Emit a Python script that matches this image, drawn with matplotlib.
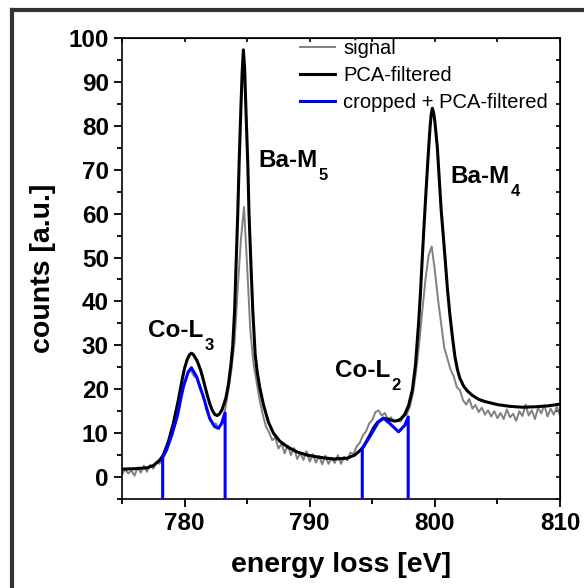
import numpy as np
import matplotlib
matplotlib.use("Agg")
import matplotlib.pyplot as plt
from matplotlib.ticker import MultipleLocator
from matplotlib.lines import Line2D

plt.rcParams['font.family'] = ['Liberation Sans', 'DejaVu Sans']

# raw signal, 0.25 eV steps from 775 to 810 eV (one row per eV)
signal_energy = np.arange(775, 810.001, 0.25)
signal_counts = [
    0.5, 1.8, 0.8, 1.5,      # 775
    0.3, 2.2, 1.0, 2.6,      # 776
    1.2, 2.8, 1.9, 3.5,      # 777
    3.0, 4.4, 5.6, 7.8,      # 778
    9.4, 12.0, 14.8, 18.5,   # 779
    21.0, 23.6, 24.3, 23.0,  # 780
    22.5, 19.8, 18.6, 15.2,  # 781
    13.6, 11.9, 12.2, 11.0,  # 782
    13.0, 15.5, 19.8, 24.5,  # 783
    31.0, 43.0, 54.0, 61.5,  # 784
    48.0, 33.5, 26.0, 21.8,  # 785
    17.5, 14.2, 11.5, 10.2,  # 786
    8.4, 9.0, 6.5, 7.6,      # 787
    5.4, 7.2, 5.0, 6.6,      # 788
    4.1, 5.5, 3.9, 5.9,      # 789
    3.5, 5.2, 3.3, 4.8,      # 790
    2.9, 4.9, 3.0, 4.4,      # 791
    3.2, 5.0, 3.0, 4.6,      # 792
    3.8, 5.6, 5.2, 7.0,      # 793
    7.8, 9.5, 10.4, 12.2,    # 794
    13.0, 14.8, 15.2, 14.0,  # 795
    14.6, 13.2, 13.6, 12.6,  # 796
    13.0, 12.6, 13.8, 14.2,  # 797
    16.0, 19.0, 24.0, 30.5,  # 798
    38.0, 45.0, 50.5, 52.5,  # 799
    47.0, 40.5, 35.0, 29.5,  # 800
    27.0, 24.5, 23.0, 20.5,  # 801
    19.8, 17.5, 16.5, 17.8,  # 802
    15.6, 16.4, 14.8, 15.8,  # 803
    14.2, 15.2, 13.8, 15.0,  # 804
    13.4, 14.6, 13.2, 15.4,  # 805
    13.6, 14.4, 12.8, 15.0,  # 806
    13.9, 16.5, 14.0, 15.2,  # 807
    13.2, 15.8, 14.5, 16.4,  # 808
    13.8, 15.6, 14.2, 16.0,  # 809
    14.0,                    # 810
]

# PCA-filtered spectrum
pca_energy = [775.0, 776.0, 777.0, 777.5, 778.0, 778.3, 778.7, 779.1, 779.5, 779.8,
              780.0, 780.2, 780.4, 780.55, 780.7, 781.0, 781.3, 781.5, 781.8, 782.0,
              782.2, 782.4, 782.6, 782.8, 783.0, 783.3, 783.5, 783.7, 783.85, 784.0,
              784.12, 784.25, 784.36, 784.5, 784.6, 784.7, 784.8, 784.9, 785.05, 785.15,
              785.3, 785.45, 785.64, 785.8, 786.0, 786.3, 786.7, 787.1, 787.6, 788.2,
              789.0, 789.8, 790.8, 791.9, 793.0, 793.6, 794.0, 794.3, 794.8, 795.1,
              795.4, 795.9, 796.3, 796.7, 797.0, 797.3, 797.6, 797.9, 798.2, 798.45,
              798.7, 798.85, 799.0, 799.15, 799.3, 799.45, 799.6, 799.7, 799.8, 799.9,
              800.0, 800.2, 800.35, 800.5, 800.7, 800.84, 801.0, 801.2, 801.4, 801.6,
              801.8, 802.0, 802.3, 802.6, 803.0, 803.5, 804.0, 805.0, 806.0, 807.0,
              808.0, 809.0, 810.0]
pca_counts = [1.8, 1.9, 2.1, 2.6, 3.8, 5.0, 8.0, 12.2, 17.5, 22.1,
              24.8, 26.7, 27.9, 28.2, 27.9, 26.5, 24.2, 22.1, 18.8, 16.8,
              15.3, 14.3, 14.0, 14.4, 15.4, 18.0, 21.0, 25.5, 30.0, 38.0,
              48.7, 60.0, 71.5, 84.0, 92.0, 97.3, 93.0, 84.0, 71.5, 60.0,
              48.7, 38.0, 28.0, 24.0, 20.5, 16.5, 12.5, 10.0, 8.2, 6.9,
              5.7, 5.0, 4.5, 4.1, 4.3, 5.0, 6.0, 6.9, 9.5, 11.2,
              12.4, 13.4, 13.1, 12.8, 12.8, 13.3, 14.3, 16.3, 19.8, 25.5,
              35.0, 42.0, 50.2, 58.0, 65.4, 72.5, 79.0, 82.5, 84.0, 83.0,
              81.0, 75.0, 68.0, 61.0, 54.0, 49.0, 43.0, 37.0, 32.0, 27.5,
              24.5, 22.5, 20.7, 19.6, 18.6, 17.7, 17.2, 16.5, 16.1, 15.9,
              16.0, 16.2, 16.6]

# cropped + PCA-filtered windows (Co-L3 and Co-L2)
crop1_energy = [778.25, 778.25, 778.57, 779.0, 779.4, 779.9, 780.3, 780.55, 780.97,
                781.5, 782.0, 782.4, 782.7, 782.97, 783.24, 783.24]
crop1_counts = [-5, 4.5, 6.2, 9.8, 13.7, 20.6, 24.0, 24.9, 22.8,
                18.3, 13.4, 11.5, 11.1, 12.2, 14.6, -5]
crop2_energy = [794.2, 794.2, 794.8, 795.5, 795.9, 796.4, 797.1, 797.6, 797.87, 797.87]
crop2_counts = [-5, 6.5, 9.2, 12.6, 13.4, 12.2, 10.3, 11.8, 13.7, -5]

# edge labels: (main text, subscript, energy, counts)
edge_labels = [('Co-L', '3', 777.1, 31.9),
               ('Ba-M', '5', 785.9, 70.7),
               ('Co-L', '2', 792.0, 22.8),
               ('Ba-M', '4', 801.25, 67.0)]

W, H = 584, 588
fig = plt.figure(figsize=(W / 100, H / 100), dpi=100)
ax = fig.add_axes([122 / W, 1 - 499 / H, 438 / W, 461 / H])

ax.plot(signal_energy, signal_counts, color='#808080', lw=1.4, label='signal', zorder=2)
ax.plot(pca_energy, pca_counts, color='black', lw=2.2, label='PCA-filtered', zorder=3)
ax.plot(crop1_energy, crop1_counts, color='#0000ff', lw=2.2, label='cropped + PCA-filtered', zorder=4)
ax.plot(crop2_energy, crop2_counts, color='#0000ff', lw=2.2, zorder=4)

ax.set_xlim(775, 810)
ax.set_ylim(-5, 100)
ax.xaxis.set_major_locator(MultipleLocator(10))
ax.xaxis.set_minor_locator(MultipleLocator(5))
ax.yaxis.set_major_locator(MultipleLocator(10))
ax.yaxis.set_minor_locator(MultipleLocator(5))
ax.tick_params(which='major', direction='out', length=6, width=1.3, labelsize=17.5)
ax.tick_params(which='minor', direction='out', length=3.5, width=1.3)
for lab in ax.get_xticklabels() + ax.get_yticklabels():
    lab.set_fontweight('bold')
for sp in ax.spines.values():
    sp.set_linewidth(1.2)

# mirrored ticks pointing inward on top and right
top = ax.secondary_xaxis('top')
top.xaxis.set_major_locator(MultipleLocator(10))
top.xaxis.set_minor_locator(MultipleLocator(5))
top.tick_params(which='both', direction='in', length=3, width=1.2, labeltop=False)
right = ax.secondary_yaxis('right')
right.yaxis.set_major_locator(MultipleLocator(10))
right.yaxis.set_minor_locator(MultipleLocator(5))
right.tick_params(which='both', direction='in', length=3, width=1.2, labelright=False)

ax.set_xlabel('energy loss [eV]', fontsize=20.5, fontweight='bold', labelpad=12)
ax.set_ylabel('counts [a.u.]', fontsize=20.5, fontweight='bold', labelpad=9)

# labels with a lowered, smaller subscript
renderer = fig.canvas.get_renderer()
for main, sub, e, c in edge_labels:
    t = ax.text(e, c, main, fontsize=17.5, fontweight='bold')
    bb = t.get_window_extent(renderer)
    ax.annotate(sub, xy=(bb.x1, bb.y0), xycoords='figure pixels',
                xytext=(1, -8), textcoords='offset pixels',
                fontsize=12, fontweight='bold', ha='left', va='baseline')

ax.legend(loc='upper left', bbox_to_anchor=(0.406, 0.998), frameon=False,
          fontsize=14.5, handlelength=1.75, handletextpad=0.4,
          labelspacing=0.4, borderaxespad=0, borderpad=0)

# outer frame of the original figure (cut on the right and bottom)
fig.add_artist(Line2D([12 / W, 12 / W], [0, 1 - 10 / H], color='#333333', lw=3, solid_capstyle='projecting'))
fig.add_artist(Line2D([12 / W, 1], [1 - 10 / H, 1 - 10 / H], color='#333333', lw=3, solid_capstyle='projecting'))

fig.savefig('out.png', dpi=100)
